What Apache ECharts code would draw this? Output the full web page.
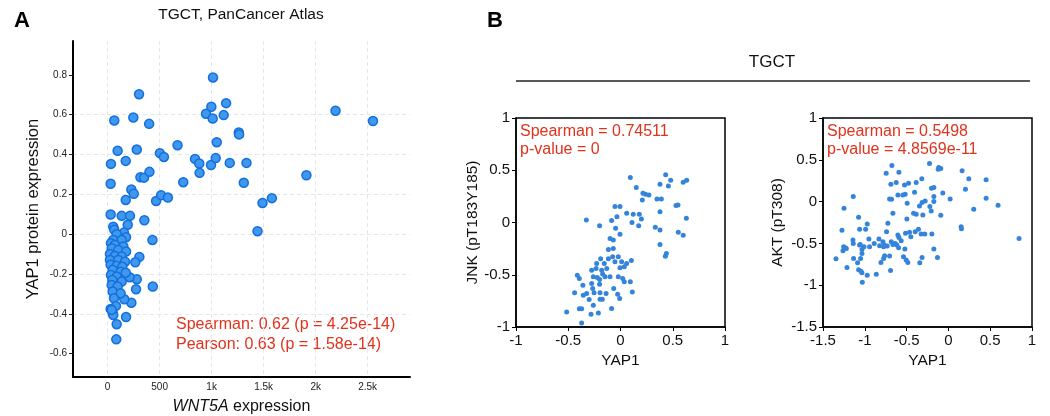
<!DOCTYPE html>
<html lang="en">
<head>
  <meta charset="UTF-8">
  <script src="https://cdn.jsdelivr.net/npm/echarts@6/dist/echarts.min.js"></script>
  <title>TGCT YAP1</title>
</head>
<body style="margin:0">
  <div id="chart" style="width: 1050px; height: 416px"></div>
  <script>
    // panel A: WNT5A expression vs YAP1 protein
    const aWnt5a = [1013, 302, 64, 247, 399, 96, 280, 32, 174, 315, 350, 402, 29, 228, 251, 174, 502, 541, 672, 727,
      466, 514, 579, 840, 881, 884, 946, 997, 1010, 1139, 1116, 1049, 994, 1039, 1261, 1264, 1174, 1335, 1309, 1489,
      1579, 1911, 2191, 2551, 1441, 353, 431, 305, 266, 280, 212, 273, 434, 228, 160, 177, 83, 87, 29, 135,
      215, 193, 54, 64, 157, 87, 177, 54, 135, 32, 70, 151, 39, 103, 177, 22, 70, 135, 22, 103,
      167, 29, 87, 141, 48, 125, 174, 32, 87, 45, 135, 39, 96, 48, 125, 61, 80, 29, 48, 54, 39];
    const aYap1 = [0.787, 0.703, 0.571, 0.586, 0.554, 0.419, 0.425, 0.353, 0.368, 0.286, 0.284, 0.313, 0.253, 0.224, 0.203, 0.172, 0.407, 0.388, 0.447, 0.261,
      0.167, 0.196, 0.184, 0.378, 0.355, 0.308, 0.605, 0.640, 0.581, 0.658, 0.598, 0.462, 0.347, 0.382, 0.511, 0.501, 0.358, 0.358, 0.258, 0.157,
      0.181, 0.296, 0.620, 0.568, 0.015, 0.070, -0.029, -0.114, -0.141, -0.226, -0.216, -0.276, -0.263, -0.344, -0.327, -0.416, -0.528, -0.452, 0.099, 0.092,
      0.092, 0.047, 0.038, 0.022, 0.008, 0, -0.015, -0.029, -0.029, -0.045, -0.054, -0.062, -0.07, -0.079, -0.087, -0.099, -0.109, -0.112, -0.129, -0.129,
      -0.138, -0.154, -0.159, -0.163, -0.179, -0.188, -0.193, -0.205, -0.213, -0.23, -0.238, -0.255, -0.263, -0.288, -0.297, -0.322, -0.36, -0.375, -0.394, -0.406, -0.38];
    const aYTicks = [-0.6, -0.4, -0.2, 0, 0.2, 0.4, 0.6, 0.8];

    // panel B left: YAP1 vs JNK (pT183Y185)
    const jnkYap1 = [0.094, 0.151, 0.432, 0.48, 0.458, 0.378, 0.6, 0.633, 0.215, 0.24, 0.272, 0.209, 0.349, 0.391, 0.531, 0.55, -0.053, -0.005, 0.059, 0.122,
      0.18, 0.2, 0.378, 0.63, 0.333, 0.378, 0.174, 0.11, -0.085, -0.034, -0.047, -0.327, -0.2, -0.005, -0.1, -0.069, 0.553, 0.6, 0.378, 0.439,
      0.429, -0.116, -0.19, -0.116, -0.075, -0.053, -0.021, 0.011, 0.104, 0.059, -0.005, 0.036, -0.228, -0.155, -0.276, -0.234, -0.18, -0.132, -0.413, -0.394,
      -0.26, -0.222, -0.171, -0.148, -0.2, -0.1, -0.021, 0.021, 0.036, 0.094, -0.36, -0.276, -0.266, -0.2, -0.253, -0.196, -0.138, -0.065, -0.027, 0.113,
      -0.439, -0.356, -0.324, -0.3, -0.26, -0.196, -0.174, -0.008, -0.085, -0.394, -0.372, -0.515, -0.282, -0.212, -0.372, -0.069];
    const jnkVal = [0.43, 0.334, 0.456, 0.405, 0.35, 0.366, 0.385, 0.405, 0.28, 0.27, 0.264, 0.216, 0.226, 0.226, 0.162, 0.168, 0.152, 0.152, 0.088, 0.078,
      0.078, 0.034, 0.104, 0.04, -0.046, -0.072, -0.03, 0, 0.018, 0.056, -0.056, 0.024, -0.03, -0.113, -0.152, -0.168, -0.094, -0.123, -0.21, -0.296,
      -0.322, -0.258, -0.347, -0.347, -0.328, -0.376, -0.328, -0.376, -0.363, -0.392, -0.433, -0.424, -0.392, -0.392, -0.456, -0.44, -0.456, -0.44, -0.504, -0.536,
      -0.52, -0.526, -0.494, -0.52, -0.546, -0.52, -0.52, -0.536, -0.568, -0.568, -0.6, -0.584, -0.632, -0.59, -0.673, -0.673, -0.68, -0.632, -0.686, -0.664,
      -0.673, -0.696, -0.68, -0.737, -0.792, -0.734, -0.734, -0.728, -0.824, -0.826, -0.826, -0.856, -0.878, -0.866, -0.961, -0.248];

    // panel B right: YAP1 vs AKT (pT308)
    const aktYap1 = [-0.676, -0.744, -0.592, -0.226, -0.115, -0.091, -0.122, 0.164, 0.451, 0.244, -0.318, -0.477, -0.385, -0.688, -0.624, -0.525, -0.202, -0.174, 0.204, -0.405,
      -0.067, -1.249, -1.138, -0.704, -0.68, -0.604, -0.545, -0.517, 0.021, 0.451, 0.594, 0.303, -0.493, -0.346, -0.315, -0.278, -0.174, -0.222, -0.206, -0.091,
      -0.174, -0.664, -0.417, -0.385, -0.306, -0.497, -1.074, -0.971, -0.724, -1.062, -0.99, -1.273, -0.74, -0.604, -0.592, -0.513, -0.465, -0.449, -0.397, -0.358,
      -0.326, -0.282, -0.198, 0.152, 0.156, 0.845, -1.142, -1.138, -1.062, -0.951, -1.01, -0.943, -0.887, -0.831, -0.823, -0.775, -0.684, -0.664, -0.637, -0.617,
      -0.565, -0.783, -0.767, -0.732, -1.253, -1.221, -1.261, -1.233, -1.034, -1.034, -0.521, -0.174, -1.345, -1.134, -1.05, -0.763, -0.775, -0.704, -0.596, -0.537,
      -0.505, -0.485, -0.315, -0.342, -0.131, -1.086, -0.807, -1.213, -1.074, -1.046, -1.034, -0.971, -0.863, -0.692, -1.03, -1.054];
    const aktVal = [0.432, 0.34, 0.352, 0.456, 0.408, 0.396, 0.388, 0.368, 0.26, 0.272, 0.272, 0.22, 0.228, 0.208, 0.228, 0.2, 0.16, 0.168, 0.148, 0.112,
      0.104, -0.08, 0.06, 0.032, 0.028, 0.08, 0.08, 0.088, 0.032, 0.04, -0.044, -0.092, -0.02, -0.052, -0.012, 0.008, 0, -0.06, -0.112, -0.164,
      0.06, -0.14, -0.14, -0.152, -0.16, -0.208, -0.188, -0.268, -0.26, -0.332, -0.332, -0.344, -0.36, -0.4, -0.428, -0.38, -0.368, -0.42, -0.36, -0.332,
      -0.388, -0.388, -0.388, -0.3, -0.324, -0.44, -0.46, -0.5, -0.52, -0.448, -0.54, -0.54, -0.5, -0.448, -0.528, -0.54, -0.48, -0.512, -0.5, -0.52,
      -0.468, -0.48, -0.52, -0.532, -0.54, -0.56, -0.588, -0.552, -0.572, -0.62, -0.568, -0.568, -0.684, -0.68, -0.68, -0.648, -0.68, -0.652, -0.552, -0.66,
      -0.7, -0.728, -0.668, -0.732, -0.668, -0.732, -0.728, -0.788, -0.816, -0.832, -0.852, -0.88, -0.868, -0.824, -0.964, -0.512];

    const zip = (xs, ys) => xs.map((x, i) => [x, ys[i]]);
    const FONT = 'Liberation Sans';
    const RED = '#e0321c';

    const chart = echarts.init(document.getElementById('chart'));

    const kLabel = (v) => {
      if (Math.abs(v % 500) > 1e-6) return '';
      return v >= 1000 ? (v / 1000) + 'k' : String(v);
    };
    const aYLabel = (v) => {
      const r = Math.round(v * 10) / 10;
      if (Math.abs(v - r) > 1e-6 || Math.abs(Math.round(r * 10) % 2) === 1) return '';
      return r === 0 ? '0' : String(r);
    };

    const bAxis = (min, max, name, gap, idx) => ({
      type: 'value', gridIndex: idx, min: min, max: max, interval: 0.5,
      name: name, nameLocation: 'middle', nameGap: gap,
      nameTextStyle: { fontFamily: FONT, fontSize: 15.5, color: '#111' },
      axisLine: { show: true, onZero: false, lineStyle: { color: '#000', width: 1.5 } },
      axisTick: { show: true, length: 4, lineStyle: { color: '#000' } },
      axisLabel: { fontFamily: FONT, fontSize: 15, color: '#111', margin: 6 },
      splitLine: { show: false }
    });

    chart.setOption({
      animation: false,
      textStyle: { fontFamily: FONT },
      grid: [
        { left: 73, top: 41, width: 337, height: 336, outerBoundsMode: 'none' },
        { left: 516, top: 118, width: 209, height: 209, show: true, borderColor: '#000', borderWidth: 1.5, outerBoundsMode: 'none' },
        { left: 823, top: 118, width: 209, height: 209, show: true, borderColor: '#000', borderWidth: 1.5, outerBoundsMode: 'none' }
      ],
      xAxis: [
        {
          type: 'value', gridIndex: 0, min: -333, max: 2907, splitNumber: 6,
          name: '{i|WNT5A} expression', nameLocation: 'middle', nameGap: 22,
          nameTextStyle: {
            fontFamily: FONT, fontSize: 16, color: '#111',
            rich: { i: { fontFamily: FONT, fontSize: 16, fontStyle: 'italic', color: '#111' } }
          },
          axisLine: { onZero: false, lineStyle: { color: '#000', width: 2 } },
          axisTick: { show: false },
          axisLabel: { fontFamily: FONT, fontSize: 10, color: '#222', margin: 5, formatter: kLabel, showMinLabel: true, showMaxLabel: true },
          splitLine: { show: true, showMinLine: false, showMaxLine: false, lineStyle: { color: '#e3e7ee', type: [4, 3] } }
        },
        bAxis(-1, 1, 'YAP1', 26, 1),
        bAxis(-1.5, 1, 'YAP1', 26, 2)
      ],
      yAxis: [
        {
          type: 'value', gridIndex: 0, min: -0.717, max: 0.97, splitNumber: 8,
          name: 'YAP1 protein expression', nameLocation: 'middle', nameGap: 31,
          nameTextStyle: { fontFamily: FONT, fontSize: 16.5, color: '#111' },
          axisLine: { show: true, onZero: false, lineStyle: { color: '#000', width: 2 } },
          axisTick: { show: true, length: 4, customValues: aYTicks, lineStyle: { color: '#222', width: 1 } },
          axisLabel: { fontFamily: FONT, fontSize: 10, color: '#222', margin: 6, formatter: aYLabel },
          splitLine: { show: true, showMinLine: false, showMaxLine: false, lineStyle: { color: '#e3e7ee', type: [4, 3] } }
        },
        bAxis(-1, 1, 'JNK (pT183Y185)', 34, 1),
        bAxis(-1.5, 1, 'AKT (pT308)', 37, 2)
      ],
      series: [
        {
          type: 'scatter', xAxisIndex: 0, yAxisIndex: 0, data: zip(aWnt5a, aYap1),
          symbolSize: 9,
          itemStyle: { color: '#3f98ee', borderColor: '#1470dc', borderWidth: 1.5, opacity: 1 }
        },
        {
          type: 'scatter', xAxisIndex: 1, yAxisIndex: 1, data: zip(jnkYap1, jnkVal),
          symbolSize: 5, itemStyle: { color: '#3584db', opacity: 1 }
        },
        {
          type: 'scatter', xAxisIndex: 2, yAxisIndex: 2, data: zip(aktYap1, aktVal),
          symbolSize: 5, itemStyle: { color: '#3584db', opacity: 1 }
        }
      ],
      graphic: [
        { type: 'text', left: 14, top: 10, style: { text: 'A', font: 'bold 22px "Liberation Sans"', fill: '#000' } },
        { type: 'text', left: 487, top: 10, style: { text: 'B', font: 'bold 22px "Liberation Sans"', fill: '#000' } },
        { type: 'text', x: 241, y: 15, style: { text: 'TGCT, PanCancer Atlas', font: '15.5px "Liberation Sans"', fill: '#111', align: 'center', verticalAlign: 'middle' } },
        { type: 'text', x: 176, y: 325, style: { text: 'Spearman: 0.62 (p = 4.25e-14)', font: '16px "Liberation Sans"', fill: RED, verticalAlign: 'middle' } },
        { type: 'text', x: 176, y: 345, style: { text: 'Pearson: 0.63 (p = 1.58e-14)', font: '16px "Liberation Sans"', fill: RED, verticalAlign: 'middle' } },
        { type: 'text', x: 772, y: 62, style: { text: 'TGCT', font: '17px "Liberation Sans"', fill: '#111', align: 'center', verticalAlign: 'middle' } },
        { type: 'line', shape: { x1: 516, y1: 81, x2: 1030, y2: 81 }, style: { stroke: '#222', lineWidth: 1.5 } },
        { type: 'text', x: 520, y: 132, style: { text: 'Spearman = 0.74511', font: '16px "Liberation Sans"', fill: RED, verticalAlign: 'middle' } },
        { type: 'text', x: 520, y: 150, style: { text: 'p-value = 0', font: '16px "Liberation Sans"', fill: RED, verticalAlign: 'middle' } },
        { type: 'text', x: 827, y: 132, style: { text: 'Spearman = 0.5498', font: '16px "Liberation Sans"', fill: RED, verticalAlign: 'middle' } },
        { type: 'text', x: 827, y: 150, style: { text: 'p-value = 4.8569e-11', font: '16px "Liberation Sans"', fill: RED, verticalAlign: 'middle' } }
      ]
    });
  </script>
</body>
</html>
